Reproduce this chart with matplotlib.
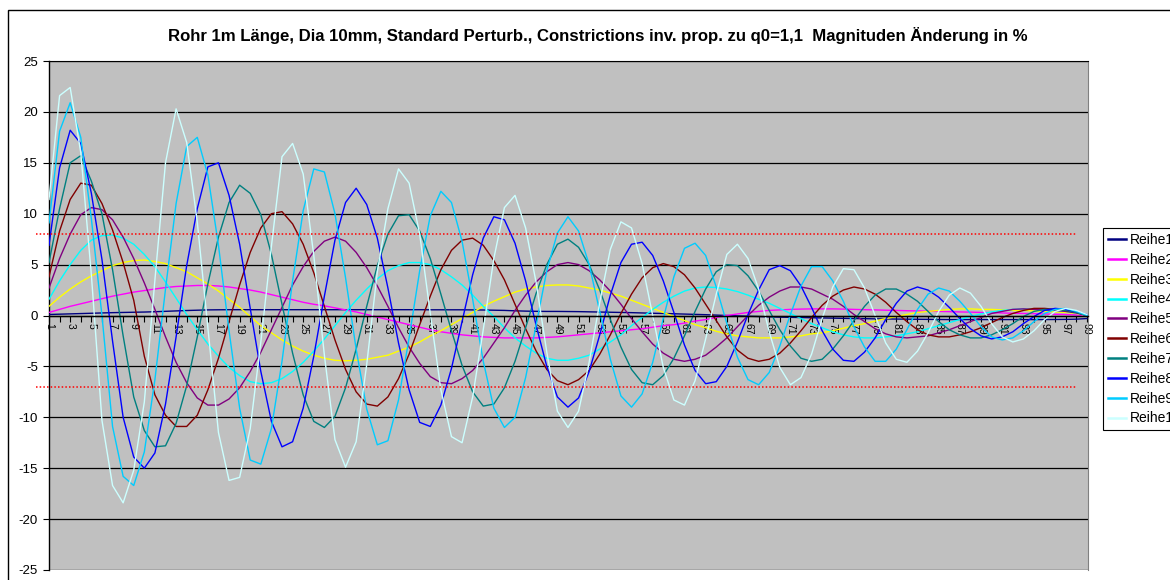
import matplotlib
matplotlib.use("Agg")
import matplotlib.pyplot as plt
from matplotlib.patches import Rectangle

plt.rcParams['font.family'] = ['Liberation Sans', 'DejaVu Sans']
plt.rcParams['axes.unicode_minus'] = False

# categories 1..99 on the x axis
categories = list(range(1, 100))

reihe1 = [0.10, 0.13, 0.16, 0.19, 0.22, 0.25, 0.28, 0.30, 0.32, 0.34,
          0.37, 0.41, 0.45, 0.49, 0.52, 0.55, 0.56, 0.57, 0.57, 0.57,
          0.57, 0.57, 0.57, 0.57, 0.57, 0.57, 0.57, 0.57, 0.57, 0.57,
          0.57, 0.57, 0.57, 0.57, 0.57, 0.57, 0.56, 0.56, 0.56, 0.56,
          0.55, 0.54, 0.52, 0.50, 0.46, 0.43, 0.41, 0.40, 0.40, 0.39,
          0.38, 0.36, 0.34, 0.32, 0.30, 0.28, 0.25, 0.22, 0.20, 0.17,
          0.14, 0.11, 0.08, 0.04, 0.00, -0.04, -0.07, -0.10, -0.13, -0.16,
          -0.18, -0.20, -0.22, -0.24, -0.26, -0.28, -0.30, -0.31, -0.33, -0.34,
          -0.35, -0.36, -0.37, -0.38, -0.39, -0.40, -0.40, -0.40, -0.40, -0.40,
          -0.40, -0.40, -0.40, -0.40, -0.40, -0.39, -0.38, -0.36, -0.30]

reihe2 = [0.30, 0.60, 0.90, 1.15, 1.40, 1.65, 1.90, 2.10, 2.30, 2.45,
          2.60, 2.75, 2.85, 2.90, 2.95, 2.95, 2.90, 2.80, 2.65, 2.50,
          2.30, 2.05, 1.80, 1.55, 1.30, 1.10, 0.95, 0.75, 0.55, 0.35,
          0.10, -0.15, -0.40, -0.65, -0.90, -1.15, -1.40, -1.60, -1.75, -1.90,
          -2.00, -2.10, -2.15, -2.20, -2.20, -2.20, -2.20, -2.15, -2.10, -2.00,
          -1.90, -1.80, -1.70, -1.60, -1.50, -1.40, -1.30, -1.15, -1.00, -0.90,
          -0.75, -0.55, -0.40, -0.20, 0.00, 0.15, 0.30, 0.40, 0.50, 0.55,
          0.60, 0.63, 0.65, 0.65, 0.65, 0.63, 0.60, 0.57, 0.55, 0.52,
          0.50, 0.47, 0.45, 0.42, 0.40, 0.38, 0.35, 0.33, 0.30, 0.28,
          0.25, 0.22, 0.20, 0.18, 0.15, 0.12, 0.10, 0.05, 0.00]

reihe3 = [0.9, 1.8, 2.6, 3.3, 3.9, 4.4, 4.9, 5.2, 5.4, 5.45,
          5.3, 5.1, 4.7, 4.3, 3.7, 3.1, 2.4, 1.6, 0.8, -0.1,
          -1.0, -1.7, -2.4, -3.0, -3.5, -3.9, -4.2, -4.4, -4.45, -4.4,
          -4.3, -4.1, -3.9, -3.5, -3.1, -2.6, -2.0, -1.5, -0.9, -0.3,
          0.3, 0.9, 1.4, 1.85, 2.3, 2.6, 2.8, 2.95, 3.0, 3.0,
          2.9, 2.7, 2.5, 2.2, 1.9, 1.5, 1.1, 0.7, 0.3, -0.1,
          -0.5, -0.9, -1.2, -1.55, -1.8, -2.0, -2.1, -2.2, -2.2, -2.2,
          -2.1, -2.0, -1.8, -1.7, -1.5, -1.25, -1.0, -0.8, -0.55, -0.3,
          -0.1, 0.1, 0.3, 0.4, 0.5, 0.6, 0.65, 0.65, 0.6, 0.6,
          0.55, 0.5, 0.5, 0.45, 0.4, 0.35, 0.3, 0.2, 0.0]

reihe4 = [1.6, 3.4, 5.0, 6.4, 7.4, 7.85, 7.9, 7.6, 7.0, 6.0,
          4.8, 3.3, 1.7, 0.1, -1.4, -2.8, -4.0, -5.1, -5.9, -6.5,
          -6.7, -6.6, -6.2, -5.5, -4.6, -3.5, -2.3, -1.0, 0.3, 1.5,
          2.6, 3.6, 4.4, 4.9, 5.2, 5.2, 5.0, 4.5, 3.8, 3.0,
          2.0, 0.9, -0.1, -1.2, -2.2, -3.0, -3.7, -4.2, -4.4, -4.4,
          -4.2, -3.9, -3.3, -2.6, -1.9, -1.0, -0.2, 0.6, 1.3, 1.9,
          2.4, 2.7, 2.8, 2.75, 2.6, 2.35, 2.0, 1.6, 1.2, 0.7,
          0.2, -0.3, -0.8, -1.2, -1.6, -1.9, -2.1, -2.2, -2.2, -2.1,
          -2.0, -1.8, -1.6, -1.3, -1.0, -0.7, -0.4, -0.1, 0.15, 0.35,
          0.5, 0.6, 0.65, 0.6, 0.55, 0.5, 0.4, 0.25, 0.0]

reihe5 = [2.7, 5.6, 8.0, 9.9, 10.6, 10.4, 9.4, 7.7, 5.6, 3.2,
          0.6, -2.1, -4.6, -6.6, -8.1, -8.8, -8.8, -8.2, -7.1, -5.5,
          -3.6, -1.4, 0.8, 3.0, 4.8, 6.3, 7.3, 7.7, 7.3, 6.2,
          4.7, 2.9, 0.9, -1.2, -3.1, -4.7, -6.0, -6.6, -6.7, -6.2,
          -5.4, -4.2, -2.7, -1.2, 0.5, 2.0, 3.3, 4.3, 5.0, 5.2,
          5.0, 4.4, 3.5, 2.4, 1.1, -0.3, -1.6, -2.8, -3.7, -4.3,
          -4.5, -4.3, -3.9, -3.1, -2.2, -1.1, 0.0, 1.0, 1.8, 2.4,
          2.8, 2.8, 2.6, 2.1, 1.6, 0.9, 0.1, -0.6, -1.3, -1.8,
          -2.1, -2.2, -2.1, -2.0, -1.7, -1.4, -1.0, -0.6, -0.2, 0.2,
          0.4, 0.6, 0.65, 0.6, 0.55, 0.5, 0.4, 0.25, 0.0]

reihe6 = [3.8, 8.3, 11.4, 13.0, 12.8, 11.0, 8.4, 5.2, 1.5, -4.0,
          -7.8, -9.8, -10.9, -10.9, -9.8, -7.3, -4.2, -0.6, 3.0, 6.2,
          8.6, 10.0, 10.2, 9.0, 7.0, 4.2, 0.9, -2.4, -5.3, -7.5,
          -8.7, -8.9, -8.0, -6.2, -3.8, -0.9, 1.9, 4.5, 6.4, 7.4,
          7.6, 6.9, 5.4, 3.5, 1.1, -1.3, -3.5, -5.3, -6.4, -6.8,
          -6.3, -5.4, -3.8, -1.9, 0.2, 2.1, 3.7, 4.7, 5.1, 4.8,
          4.0, 2.7, 1.1, -0.5, -2.1, -3.4, -4.2, -4.5, -4.3, -3.7,
          -2.7, -1.5, -0.2, 1.0, 1.9, 2.5, 2.8, 2.6, 2.1, 1.3,
          0.3, -0.6, -1.4, -1.9, -2.1, -2.1, -1.9, -1.6, -1.2, -0.7,
          -0.2, 0.2, 0.5, 0.7, 0.7, 0.6, 0.5, 0.3, 0.0]

reihe7 = [5.2, 10.5, 15.0, 15.7, 13.2, 10.0, 4.5, -2.0, -8.0, -11.3,
          -12.9, -12.8, -10.6, -6.9, -2.1, 3.1, 7.7, 11.1, 12.8, 12.0,
          9.9, 6.0, 1.1, -3.7, -7.8, -10.4, -11.0, -9.9, -7.1, -3.3,
          0.9, 4.9, 8.0, 9.8, 9.9, 8.3, 5.6, 2.1, -1.5, -4.9,
          -7.5, -8.9, -8.7, -7.1, -4.5, -1.2, 2.2, 5.0, 7.0, 7.5,
          6.7, 5.0, 2.5, -0.4, -3.1, -5.3, -6.6, -6.8, -5.9, -4.2,
          -2.0, 0.4, 2.6, 4.3, 5.0, 4.9, 3.9, 2.4, 0.5, -1.4,
          -3.0, -4.2, -4.5, -4.3, -3.3, -2.0, -0.5, 0.9, 2.0, 2.6,
          2.6, 2.1, 1.4, 0.4, -0.6, -1.4, -1.9, -2.2, -2.2, -1.9,
          -1.4, -0.8, -0.1, 0.4, 0.6, 0.6, 0.5, 0.3, 0.0]

reihe8 = [6.9, 14.5, 18.2, 16.9, 12.0, 5.5, -2.5, -10.0, -13.9, -15.0,
          -13.5, -8.7, -2.1, 4.9, 10.5, 14.6, 15.0, 11.8, 7.0, 0.7,
          -5.5, -10.4, -12.9, -12.4, -9.1, -4.0, 1.9, 7.4, 11.1, 12.5,
          10.9, 7.6, 2.7, -2.7, -7.3, -10.5, -10.9, -8.8, -5.2, -0.6,
          4.0, 7.6, 9.7, 9.4, 7.1, 3.4, -1.0, -5.0, -8.0, -9.0,
          -8.1, -5.5, -1.9, 2.0, 5.2, 7.0, 7.2, 5.9, 3.4, 0.3,
          -2.9, -5.4, -6.7, -6.5, -5.0, -2.6, 0.1, 2.5, 4.5, 4.9,
          4.4, 2.9, 0.8, -1.5, -3.3, -4.4, -4.5, -3.6, -2.2, -0.4,
          1.2, 2.4, 2.8, 2.5, 1.8, 0.8, -0.3, -1.3, -2.0, -2.3,
          -2.1, -1.6, -0.8, -0.1, 0.5, 0.7, 0.6, 0.4, 0.1]

reihe9 = [9.1, 18.1, 20.9, 17.5, 9.5, 0.0, -10.9, -15.8, -16.7, -13.4,
          -6.3, 2.6, 11.0, 16.6, 17.5, 13.8, 6.9, -1.5, -9.1, -14.2,
          -14.6, -11.1, -4.5, 3.4, 10.3, 14.4, 14.1, 10.0, 3.7, -3.3,
          -9.2, -12.7, -12.3, -8.3, -2.2, 4.4, 9.8, 12.2, 11.1, 7.3,
          1.6, -4.5, -9.1, -11.0, -10.0, -6.1, -0.9, 4.4, 8.1, 9.7,
          8.3, 5.0, 0.4, -4.3, -7.9, -9.0, -7.7, -4.6, -0.3, 3.8,
          6.6, 7.1, 5.9, 2.8, -0.8, -4.1, -6.3, -6.8, -5.6, -3.0,
          0.1, 2.9, 4.8, 4.8, 3.4, 1.4, -1.1, -3.1, -4.5, -4.5,
          -3.3, -1.4, 0.6, 2.1, 2.7, 2.4, 1.4, 0.2, -1.1, -2.1,
          -2.4, -2.2, -1.5, -0.6, 0.2, 0.6, 0.7, 0.4, 0.0]

reihe10 = [11.4, 21.6, 22.4, 16.0, 4.0, -10.3, -16.7, -18.4, -15.2, -8.5,
           3.5, 15.0, 20.3, 17.0, 9.2, -1.2, -11.5, -16.2, -15.9, -11.1,
           -2.6, 6.8, 15.6, 16.9, 13.9, 5.9, -3.9, -12.2, -14.9, -12.4,
           -4.8, 4.3, 10.5, 14.4, 13.0, 8.0, 0.2, -7.3, -11.9, -12.5,
           -8.0, -1.4, 5.6, 10.6, 11.8, 8.6, 3.2, -3.6, -9.4, -11.0,
           -9.4, -4.6, 1.3, 6.5, 9.2, 8.6, 5.1, 0.0, -5.1, -8.3,
           -8.8, -6.4, -2.3, 2.1, 6.0, 7.0, 5.6, 2.6, -1.6, -5.1,
           -6.8, -6.1, -3.8, -0.3, 2.8, 4.6, 4.5, 2.7, 0.0, -2.7,
           -4.3, -4.6, -3.5, -1.7, 0.4, 2.0, 2.7, 2.2, 0.9, -0.8,
           -2.1, -2.6, -2.3, -1.5, -0.4, 0.4, 0.7, 0.5, 0.1]

series = [reihe1, reihe2, reihe3, reihe4, reihe5,
          reihe6, reihe7, reihe8, reihe9, reihe10]
names = ["Reihe1", "Reihe2", "Reihe3", "Reihe4", "Reihe5",
         "Reihe6", "Reihe7", "Reihe8", "Reihe9", "Reihe10"]
colors = ["#000080", "#FF00FF", "#FFFF00", "#00FFFF", "#800080",
          "#800000", "#008080", "#0000FF", "#00CCFF", "#CCFFFF"]
limit_levels = [8, -7]
y_ticks = [-25, -20, -15, -10, -5, 0, 5, 10, 15, 20, 25]
title = ("Rohr 1m Länge, Dia 10mm, Standard Perturb., Constrictions inv. "
         "prop. zu q0=1,1  Magnituden Änderung in %")

W, H = 1170, 580
fig = plt.figure(figsize=(W / 100, H / 100), dpi=100)
fig.patch.set_facecolor("white")

# outer chart border (runs off the right/bottom edge like the original)
fig.add_artist(Rectangle((8 / W, -0.05), 1.2, 1 - 10 / H + 0.05,
                         transform=fig.transFigure, fill=False,
                         edgecolor="black", lw=1.0))

ax = fig.add_axes([49 / W, 10 / H, 1039 / W, 509 / H])
ax.set_facecolor("#C0C0C0")

# x axis crosses at zero -- must be set before the ticks (it resets them)
ax.spines["bottom"].set_position(("data", 0))
ax.spines["bottom"].set_zorder(4)
ax.spines["bottom"].set_linewidth(1.0)
ax.spines["left"].set_linewidth(1.0)
ax.spines["top"].set_color("black")
ax.spines["right"].set_color("#808080")

lines = []
for vals, name, col in zip(series, names, colors):
    ln, = ax.plot(categories, vals, color=col, lw=1.0, label=name, zorder=3)
    lines.append(ln)

for lvl in limit_levels:
    ax.axhline(lvl, xmin=-0.0125, xmax=0.989, color="red", lw=1.1,
               linestyle=(0, (1.0, 1.4)), clip_on=False, zorder=5)

ax.set_xlim(1, 99.1)
ax.set_ylim(-25, 25)
ax.set_yticks(y_ticks)
ax.set_yticklabels([str(v) for v in y_ticks])
ax.yaxis.grid(True, color="black", lw=0.9, zorder=1)
ax.set_axisbelow(True)

ax.set_xticks(categories)
ax.set_xticklabels([str(c) if c % 2 == 1 else "" for c in categories])
ax.tick_params(axis="x", direction="out", length=4, width=0.8, pad=1.5,
               labelsize=7.5, labelrotation=270)
ax.tick_params(axis="y", direction="out", length=4, width=0.8,
               labelsize=9.5, pad=4)

fig.text(598 / W, 1 - 36 / H, title, ha="center", va="center",
         fontsize=12.1, fontweight="bold")

leg = ax.legend(lines, names, loc="upper left",
                bbox_to_anchor=(1103 / W, 1 - 228 / H),
                bbox_transform=fig.transFigure, frameon=True, fancybox=False,
                edgecolor="black", framealpha=1, fontsize=10,
                handlelength=1.3, handletextpad=0.25, labelspacing=0.42,
                borderpad=0.35, borderaxespad=0)
leg.get_frame().set_linewidth(0.8)
for ln in leg.get_lines():
    ln.set_linewidth(1.8)

fig.savefig("out.png", dpi=100)
